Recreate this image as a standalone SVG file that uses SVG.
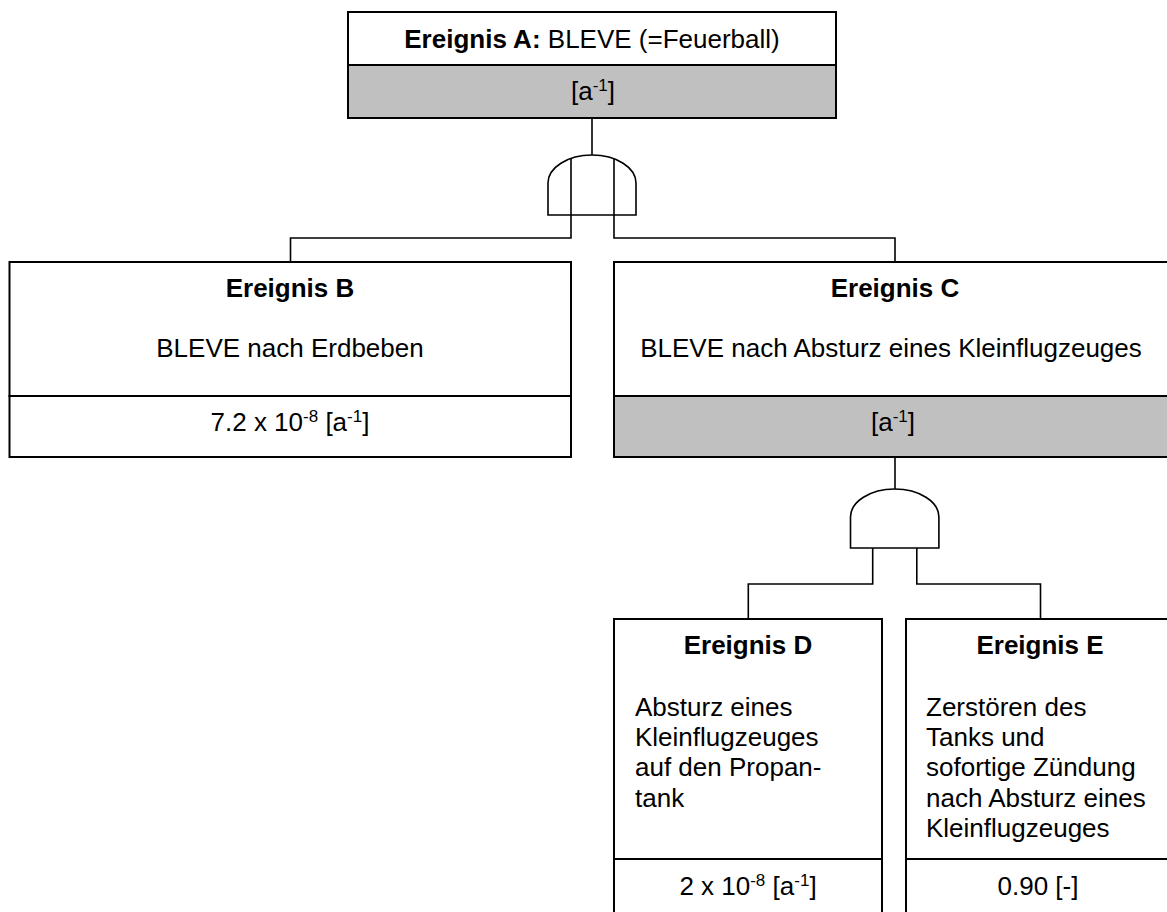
<svg xmlns="http://www.w3.org/2000/svg" width="1167" height="912" viewBox="0 0 1167 912">
<style>
  .box { fill: #ffffff; stroke: #000000; stroke-width: 2; }
  .grey { fill: #c0c0c0; stroke: #000000; stroke-width: 2; }
  .gate { fill: #ffffff; stroke: #000000; stroke-width: 1.6; }
  .conn { fill: none; stroke: #000000; stroke-width: 1.6; }
  text { font-family: "Liberation Sans", Arial, sans-serif; font-size: 26px; fill: #000000; }
  .c { text-anchor: middle; }
  .b { font-weight: bold; }
  .sup { font-size: 17px; }
</style>
<rect width="1167" height="912" fill="#ffffff"/>

<g id="connectors">
  <path class="conn" d="M592,118 V155"/>
  <path class="conn" d="M571,158.6 V238 H290.5 V262"/>
  <path class="conn" d="M614,158.8 V238 H895 V262"/>
  <path class="conn" d="M895,457 V489"/>
  <path class="conn" d="M872.7,548 V584 H748.3 V619"/>
  <path class="conn" d="M916.8,548 V584 H1040.5 V619"/>
</g>

<g id="gate1">
  <path class="gate" d="M548,215 V183 A44,28 0 0 1 636,183 V215 Z"/>
  <path class="conn" d="M571,158.6 V215 M614,158.8 V215"/>
</g>

<g id="gate2">
  <path class="gate" d="M850.5,548 V517 A44.2,28 0 0 1 938.9,517 V548 Z"/>
</g>

<g id="eventA">
  <rect class="box" x="348" y="12" width="488" height="53"/>
  <rect class="grey" x="348" y="65" width="488" height="53"/>
  <text class="c" x="592" y="48"><tspan class="b">Ereignis A:</tspan> BLEVE (=Feuerball)</text>
  <text class="c" x="593" y="100">[a<tspan class="sup" dy="-9">-1</tspan><tspan dy="9">]</tspan></text>
</g>

<g id="eventB">
  <rect class="box" x="9.5" y="262" width="561.5" height="134"/>
  <rect class="box" x="9.5" y="396" width="561.5" height="61"/>
  <text class="c b" x="290" y="297">Ereignis B</text>
  <text class="c" x="290" y="357">BLEVE nach Erdbeben</text>
  <text class="c" x="290" y="431">7.2 x 10<tspan class="sup" dy="-9">-8</tspan><tspan dy="9"> [a</tspan><tspan class="sup" dy="-9">-1</tspan><tspan dy="9">]</tspan></text>
</g>

<g id="eventC">
  <rect class="box" x="614" y="262" width="562" height="134"/>
  <rect class="grey" x="614" y="396" width="562" height="61"/>
  <text class="c b" x="895" y="297">Ereignis C</text>
  <text class="c" x="891" y="357">BLEVE nach Absturz eines Kleinflugzeuges</text>
  <text class="c" x="893" y="431">[a<tspan class="sup" dy="-9">-1</tspan><tspan dy="9">]</tspan></text>
</g>

<g id="eventD">
  <rect class="box" x="614" y="619" width="268" height="240"/>
  <rect class="box" x="614" y="859" width="268" height="60"/>
  <text class="c b" x="748" y="654">Ereignis D</text>
  <text x="635" y="716">Absturz eines</text>
  <text x="635" y="746">Kleinflugzeuges</text>
  <text x="635" y="776">auf den Propan-</text>
  <text x="635" y="807">tank</text>
  <text class="c" x="748" y="895">2 x 10<tspan class="sup" dy="-9">-8</tspan><tspan dy="9"> [a</tspan><tspan class="sup" dy="-9">-1</tspan><tspan dy="9">]</tspan></text>
</g>

<g id="eventE">
  <rect class="box" x="906" y="619" width="270" height="240"/>
  <rect class="box" x="906" y="859" width="270" height="60"/>
  <text class="c b" x="1040" y="654">Ereignis E</text>
  <text x="926" y="716">Zerstören des</text>
  <text x="926" y="746">Tanks und</text>
  <text x="926" y="776">sofortige Zündung</text>
  <text x="926" y="807">nach Absturz eines</text>
  <text x="926" y="837">Kleinflugzeuges</text>
  <text class="c" x="1038" y="895">0.90 [-]</text>
</g>
</svg>
